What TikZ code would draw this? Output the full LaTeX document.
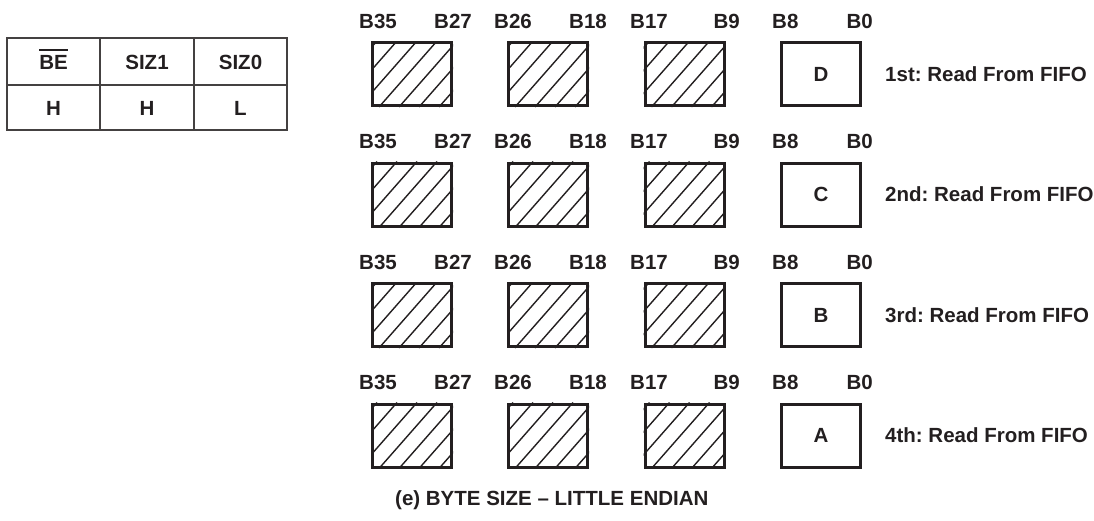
\documentclass[tikz,border=0pt]{standalone}
\usepackage{fontspec}
\setmainfont{Liberation Sans}
\definecolor{ink}{HTML}{231F20}
\frenchspacing
\begin{document}
\begin{tikzpicture}[x=1pt,y=-1pt,
  every node/.style={font=\fontsize{20.5}{24}\selectfont\bfseries, text=ink},
  txt/.style={inner sep=0pt},
  box/.style={draw=ink, line width=3pt, minimum width=79pt, minimum height=63pt, inner sep=0pt},
  hatchline/.style={draw=ink, line width=1.4pt},
  grid/.style={draw=ink!85, line width=1.1pt}]
\useasboundingbox (0,0) rectangle (1094,520);
% ---- table ----
\draw[grid] (7,38) rectangle (287,130);
\draw[grid] (100,38) -- (100,130) (194,38) -- (194,130) (7,85) -- (287,85);
\node[txt] (be) at (53.5,62) {BE};
\draw[ink, line width=2.4pt] ([yshift=4.5pt]be.north west) -- ([yshift=4.5pt]be.north east);
\node[txt] (siz1) at (147,62) {SIZ1};
\node[txt] (siz0) at (240.5,62) {SIZ0};
\node[txt] (v1) at (53.5,108) {H};
\node[txt] (v2) at (147,108) {H};
\node[txt] (v3) at (240.5,108) {L};
% ---- rows ----
\foreach \r/\ltr/\ord in {0/D/1st,1/C/2nd,2/B/3rd,3/A/4th}{
  \pgfmathsetmacro{\rtop}{41+120.5*\r}
  % labels
  \node[txt, anchor=west] (la\r) at (359,\rtop-20) {B35};
  \node[txt, anchor=east] (lb\r) at (472,\rtop-20) {B27};
  \node[txt, anchor=west] (lc\r) at (494,\rtop-20) {B26};
  \node[txt, anchor=east] (ld\r) at (607,\rtop-20) {B18};
  \node[txt, anchor=west] (le\r) at (630,\rtop-20) {B17};
  \node[txt, anchor=east] (lf\r) at (740,\rtop-20) {B9};
  \node[txt, anchor=west] (lg\r) at (772,\rtop-20) {B8};
  \node[txt, anchor=east] (lh\r) at (873,\rtop-20) {B0};
  % hatched boxes
  \foreach \c/\x in {1/371,2/507,3/643.5}{
    \begin{scope}
      \clip (\x,\rtop) rectangle (\x+82,\rtop+66);
      \foreach \k in {-5,...,5}
        \draw[hatchline] (\x+28+\k*20,\rtop+66) -- ++(58,-66);
    \end{scope}
    \node[box] (h\r\c) at (\x+41,\rtop+33) {};
  }
  \node[box] (d\r) at (821,\rtop+33) {\ltr};
  \node[txt, anchor=west] (s\r) at (885,\rtop+33) {\ord: Read From FIFO};
}
\node[txt, anchor=west] (cap) at (395,500) {(e) BYTE SIZE -- LITTLE ENDIAN};
\end{tikzpicture}
\end{document}
